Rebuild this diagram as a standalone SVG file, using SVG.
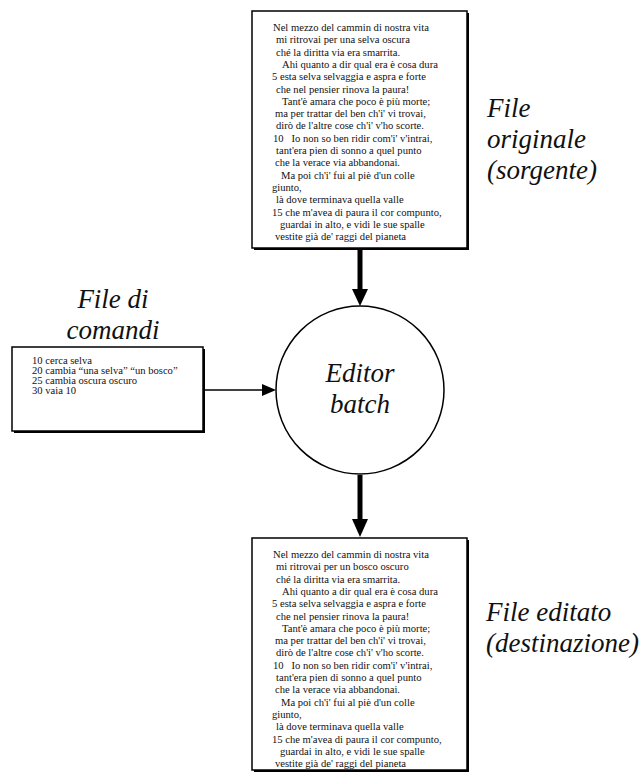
<svg xmlns="http://www.w3.org/2000/svg" width="640" height="776" viewBox="0 0 640 776">
<style>
.box{fill:#fff;stroke:#000;stroke-width:1.5}
.shadow{fill:#000}
.t{font-family:"Liberation Serif","Times New Roman",serif;font-size:10.6px;fill:#111}
.lbl{font-family:"Liberation Serif","Times New Roman",serif;font-size:27px;font-style:italic;fill:#111}
.thick{stroke:#000;stroke-width:5;fill:none}
.thin{stroke:#000;stroke-width:1.5;fill:none}
</style>

<g id="source">
<rect class="shadow" x="254" y="13" width="215" height="237"/>
<rect class="box" x="252" y="11" width="215" height="237"/>
<g class="t">
<text x="273" y="31">Nel mezzo del cammin di nostra vita</text>
<text x="276" y="43.3">mi ritrovai per una selva oscura</text>
<text x="276" y="55.6">ché la diritta via era smarrita.</text>
<text x="282" y="67.9">Ahi quanto a dir qual era è cosa dura</text>
<text x="272" y="80.2">5 esta selva selvaggia e aspra e forte</text>
<text x="276" y="92.5">che nel pensier rinova la paura!</text>
<text x="282" y="104.8">Tant'è amara che poco è più morte;</text>
<text x="275" y="117.1">ma per trattar del ben ch'i' vi trovai,</text>
<text x="276" y="129.4">dirò de l'altre cose ch'i' v'ho scorte.</text>
<text x="273" y="141.7">10 &#160; Io non so ben ridir com'i' v'intrai,</text>
<text x="276" y="154">tant'era pien di sonno a quel punto</text>
<text x="275" y="166.3">che la verace via abbandonai.</text>
<text x="281" y="178.6">Ma poi ch'i' fui al piè d'un colle</text>
<text x="272" y="190.9">giunto,</text>
<text x="276" y="203.2">là dove terminava quella valle</text>
<text x="272" y="215.5">15 che m'avea di paura il cor compunto,</text>
<text x="280" y="227.8">guardai in alto, e vidi le sue spalle</text>
<text x="275" y="240.1">vestite già de' raggi del pianeta</text>
</g>
</g>

<g id="source-label" class="lbl">
<text x="487" y="117">File</text>
<text x="487" y="148">originale</text>
<text x="487" y="179">(sorgente)</text>
</g>

<g id="commands">
<rect class="shadow" x="14" y="349" width="191" height="84"/>
<rect class="box" x="12" y="347" width="191" height="84"/>
<g class="t">
<text x="32" y="364">10 cerca selva</text>
<text x="32" y="374">20 cambia “una selva” “un bosco”</text>
<text x="32" y="384">25 cambia oscura oscuro</text>
<text x="32" y="394">30 vaia 10</text>
</g>
</g>

<g id="commands-label" class="lbl" text-anchor="middle">
<text x="113" y="308">File di</text>
<text x="113" y="339">comandi</text>
</g>

<g id="editor">
<circle cx="360" cy="390" r="84" fill="#fff" stroke="#000" stroke-width="1.5"/>
<g class="lbl" text-anchor="middle">
<text x="360" y="382">Editor</text>
<text x="360" y="413">batch</text>
</g>
</g>

<g id="destination">
<rect class="shadow" x="254" y="540" width="215" height="232"/>
<rect class="box" x="252" y="538" width="215" height="232"/>
<g class="t">
<text x="273" y="558">Nel mezzo del cammin di nostra vita</text>
<text x="276" y="570.3">mi ritrovai per un bosco oscuro</text>
<text x="276" y="582.6">ché la diritta via era smarrita.</text>
<text x="282" y="594.9">Ahi quanto a dir qual era è cosa dura</text>
<text x="272" y="607.2">5 esta selva selvaggia e aspra e forte</text>
<text x="276" y="619.5">che nel pensier rinova la paura!</text>
<text x="282" y="631.8">Tant'è amara che poco è più morte;</text>
<text x="275" y="644.1">ma per trattar del ben ch'i' vi trovai,</text>
<text x="276" y="656.4">dirò de l'altre cose ch'i' v'ho scorte.</text>
<text x="273" y="668.7">10 &#160; Io non so ben ridir com'i' v'intrai,</text>
<text x="276" y="681">tant'era pien di sonno a quel punto</text>
<text x="275" y="693.3">che la verace via abbandonai.</text>
<text x="281" y="705.6">Ma poi ch'i' fui al piè d'un colle</text>
<text x="272" y="717.9">giunto,</text>
<text x="276" y="730.2">là dove terminava quella valle</text>
<text x="272" y="742.5">15 che m'avea di paura il cor compunto,</text>
<text x="280" y="754.8">guardai in alto, e vidi le sue spalle</text>
<text x="275" y="767.1">vestite già de' raggi del pianeta</text>
</g>
</g>

<g id="destination-label" class="lbl">
<text x="486" y="621">File editato</text>
<text x="486" y="652">(destinazione)</text>
</g>

<g id="connectors">
<line class="thick" x1="360" y1="250" x2="360" y2="292"/>
<path d="M352,289 L368,289 L360,306 z" fill="#000"/>
<line class="thick" x1="360" y1="475" x2="360" y2="522"/>
<path d="M352,519 L368,519 L360,537 z" fill="#000"/>
<line class="thin" x1="205" y1="390" x2="264" y2="390"/>
<path d="M262,384 L276,390 L262,396 z" fill="#000"/>
</g>
</svg>
